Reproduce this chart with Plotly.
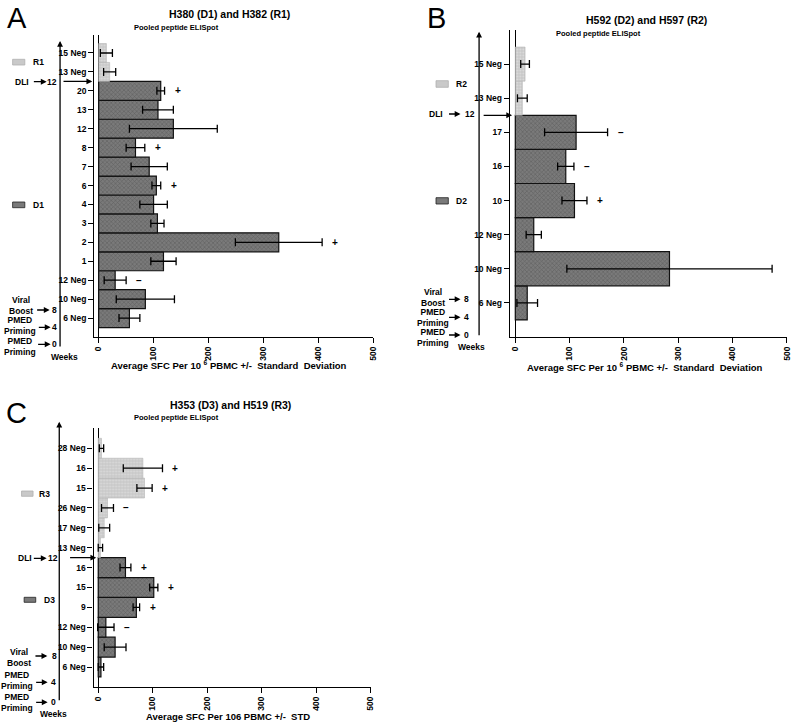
import plotly.graph_objects as go

W, H = 800, 725
FONT = "Liberation Sans, Arial, sans-serif"

def px(x):
    return x / W

def py(y):
    return 1 - y / H

# ---------------- Data ----------------
# Panel A: H380 (D1) and H382 (R1)  (bottom -> top)
a_d_labels = ["6 Neg", "10 Neg", "12 Neg", "1", "2", "3", "4", "6", "7", "8", "12", "13", "20"]
a_d_mean = [56, 85, 30, 118, 328, 107, 100, 105, 92, 67, 136, 108, 113]
a_d_sd = [19, 53, 20, 23, 79, 12, 25, 8, 33, 17, 80, 28, 7]
a_d_sig = ["", "", "–", "", "+", "", "", "+", "", "+", "", "", "+"]
a_r_labels = ["13 Neg", "15 Neg"]
a_r_mean = [20, 14]
a_r_sd = [11, 11]
a_r_sig = ["", ""]

# Panel B: H592 (D2) and H597 (R2)
b_d_labels = ["6 Neg", "10 Neg", "12 Neg", "10", "16", "17"]
b_d_mean = [22, 284, 34, 109, 93, 112]
b_d_sd = [19, 189, 14, 23, 15, 58]
b_d_sig = ["", "", "", "+", "–", "–"]
b_r_labels = ["13 Neg", "15 Neg"]
b_r_mean = [13, 18]
b_r_sd = [9, 8]
b_r_sig = ["", ""]

# Panel C: H353 (D3) and H519 (R3)
c_d_labels = ["6 Neg", "10 Neg", "12 Neg", "9", "15", "16"]
c_d_mean = [5, 31, 14, 70, 102, 50]
c_d_sd = [5, 20, 15, 6, 7.5, 10]
c_d_sig = ["", "", "–", "+", "+", "+"]
c_r_labels = ["13 Neg", "17 Neg", "26 Neg", "15", "16", "28 Neg"]
c_r_mean = [4, 11, 17, 85, 82, 6]
c_r_sd = [4, 10, 11, 14, 36, 4]
c_r_sig = ["", "", "–", "+", "+", ""]

x_ticks = [0, 100, 200, 300, 400, 500]

# ---------------- Styles ----------------
D_MARKER = dict(color="#7a7a7a",
                pattern=dict(shape="x", size=3, solidity=0.35, fgcolor="#454545"),
                line=dict(color="#111111", width=1.2))
R_MARKER = dict(color="#c9c9c9",
                pattern=dict(shape=".", size=3, solidity=0.3, fgcolor="#ededed"),
                line=dict(color="#b5b5b5", width=0.6))
ERR = dict(type="data", visible=True, color="black", thickness=1.3, width=4)

panels = [
    dict(xa="x", ya="y", xdom=(94, 375), ydom=(35, 337), xr=[-8, 500], yr=[-1, 14.95],
         d=(a_d_labels, a_d_mean, a_d_sd, a_d_sig), r=(a_r_labels, a_r_mean, a_r_sd, a_r_sig)),
    dict(xa="x2", ya="y2", xdom=(512.7, 791.7), ydom=(30, 337), xr=[-10, 500], yr=[-1, 8.0],
         d=(b_d_labels, b_d_mean, b_d_sd, b_d_sig), r=(b_r_labels, b_r_mean, b_r_sd, b_r_sig)),
    dict(xa="x3", ya="y3", xdom=(93.3, 372.3), ydom=(428, 686.9), xr=[-8.5, 500], yr=[-1, 12.02],
         d=(c_d_labels, c_d_mean, c_d_sd, c_d_sig), r=(c_r_labels, c_r_mean, c_r_sd, c_r_sig)),
]

fig = go.Figure()
annotations = []
shapes = []

for i, p in enumerate(panels):
    dl, dm, ds, dsig = p["d"]
    rl, rm, rs, rsig = p["r"]
    nd = len(dl)
    d_pos = list(range(nd))
    r_pos = list(range(nd, nd + len(rl)))
    fig.add_trace(go.Bar(x=dm, y=d_pos, orientation="h", width=1, marker=D_MARKER,
                         error_x=dict(array=ds, **ERR), xaxis=p["xa"], yaxis=p["ya"],
                         showlegend=False, hoverinfo="x"))
    fig.add_trace(go.Bar(x=rm, y=r_pos, orientation="h", width=1, marker=R_MARKER,
                         error_x=dict(array=rs, **ERR), xaxis=p["xa"], yaxis=p["ya"],
                         showlegend=False, hoverinfo="x"))
    for pos, m, s, sg in list(zip(d_pos, dm, ds, dsig)) + list(zip(r_pos, rm, rs, rsig)):
        if sg:
            annotations.append(dict(x=m + s, y=pos, xref=p["xa"], yref=p["ya"], text=sg,
                                    showarrow=False, xshift=13, xanchor="center",
                                    font=dict(family=FONT, size=10, color="black", weight="bold")))
    suffix = "" if i == 0 else str(i + 1)
    axis_common = dict(showline=True, linecolor="black", linewidth=1.3, ticks="outside",
                       ticklen=5, tickwidth=1.2, tickcolor="black", showgrid=False,
                       tickfont=dict(family=FONT, size=8.5, color="black", weight="bold"))
    fig.layout["xaxis" + suffix] = dict(
        domain=[px(p["xdom"][0]), px(p["xdom"][1])], range=p["xr"], anchor=p["ya"],
        tickvals=x_ticks, ticktext=[str(v) for v in x_ticks], tickangle=-90,
        zeroline=True, zerolinecolor="black", zerolinewidth=1.2, **axis_common)
    fig.layout["yaxis" + suffix] = dict(
        domain=[py(p["ydom"][1]), py(p["ydom"][0])], range=p["yr"], anchor=p["xa"],
        tickvals=d_pos + r_pos, ticktext=dl + rl, zeroline=False, **axis_common)


def text(x, y, s, size=8.5, bold=True, xanchor="center"):
    annotations.append(dict(x=px(x), y=py(y), xref="paper", yref="paper", text=s,
                            showarrow=False, xanchor=xanchor, yanchor="middle", align="center",
                            font=dict(family=FONT, size=size, color="black",
                                      weight="bold" if bold else "normal")))


def arrow(x0, y0, x1, y1, width=1.3, size=0.9):
    # from (x0,y0) to head at (x1,y1) in pixel coordinates
    annotations.append(dict(x=px(x1), y=py(y1), xref="paper", yref="paper", text="",
                            showarrow=True, ax=x0 - x1, ay=y0 - y1, axref="pixel", ayref="pixel",
                            arrowhead=2, arrowsize=size, arrowwidth=width, arrowcolor="black",
                            standoff=0, startstandoff=0))


def arrow_to_axis(x0, x1, ypos, yref):
    annotations.append(dict(x=px(x1), y=ypos, xref="paper", yref=yref, text="",
                            showarrow=True, ax=x0 - x1, ay=0, axref="pixel", ayref="pixel",
                            arrowhead=2, arrowsize=0.9, arrowwidth=1.3, arrowcolor="black",
                            standoff=0))


def swatch(x0, y0, x1, y1, kind):
    if kind == "D":
        fill, line = "#7a7a7a", "#222222"
    else:
        fill, line = "#c9c9c9", "#b0b0b0"
    shapes.append(dict(type="rect", xref="paper", yref="paper", x0=px(x0), x1=px(x1),
                       y0=py(y1), y1=py(y0), fillcolor=fill, line=dict(color=line, width=0.8)))


# ---------------- Panel A decorations ----------------
text(16, 18.5, "A", size=29, bold=False)
text(230.5, 14, "H380 (D1) and H382 (R1)", size=10.5)
text(177, 28, "Pooled peptide ELISpot", size=7.5)
text(230, 365, "Average SFC Per 10 <sup>6</sup> PBMC +/-  Standard  Deviation", size=9.5)
swatch(11.7, 59.3, 24, 65, "R")
text(30, 62.2, "R1", xanchor="left")
swatch(11.7, 202, 24, 207.7, "D")
text(30, 205, "D1", xanchor="left")
arrow(59.5, 348, 59.5, 41)
text(20.7, 81.7, "DLI")
arrow(31.7, 81.7, 46, 81.7)
text(51.5, 81.7, "12")
arrow_to_axis(61.7, 92, 12.5, "y")
text(20.3, 305.8, "Viral<br>Boost")
arrow(35, 310, 49, 310)
text(54.3, 310, "8")
text(19.2, 325.8, "PMED<br>Priming")
arrow(36.7, 327.3, 50, 327.3)
text(53.5, 327.3, "4")
text(19.2, 346, "PMED<br>Priming")
arrow(36, 344.3, 50, 344.3)
text(53.5, 344.3, "0")
text(64.3, 357.3, "Weeks")

# ---------------- Panel B decorations ----------------
text(438.7, 17.5, "B", size=29, bold=False)
text(650.5, 19.5, "H592 (D2) and H597 (R2)", size=10.5)
text(602, 33.7, "Pooled peptide ELISpot", size=7.5)
text(648.8, 367.3, "Average SFC Per 10 <sup>6</sup> PBMC +/-  Standard  Deviation", size=9.5)
swatch(438.3, 80.7, 450.7, 87.3, "R")
text(456.7, 84, "R2", xanchor="left")
swatch(438.3, 197.7, 450.7, 204, "D")
text(456.7, 201, "D2", xanchor="left")
arrow(481.7, 336.7, 481.7, 31.7)
text(438.3, 114, "DLI")
arrow(450, 114, 463, 114)
text(472.5, 114, "12")
arrow_to_axis(485, 515, 5.5, "y2")
text(435, 297.5, "Viral<br>Boost")
arrow(450, 299.3, 463, 299.3)
text(469.3, 299.3, "8")
text(435.5, 317.2, "PMED<br>Priming")
arrow(450, 317.3, 463, 317.3)
text(469.3, 317.3, "4")
text(435.5, 337.3, "PMED<br>Priming")
arrow(450, 335, 463, 335)
text(469.3, 335, "0")
text(474, 346.7, "Weeks")

# ---------------- Panel C decorations ----------------
text(16, 413, "C", size=29, bold=False)
text(231, 405, "H353 (D3) and H519 (R3)", size=10.5)
text(177, 417.5, "Pooled peptide ELISpot", size=7.5)
text(228.8, 716, "Average SFC Per 106 PBMC +/-  STD", size=9.5)
swatch(20.7, 491, 32.3, 496.3, "R")
text(36.7, 493.7, "R3", xanchor="left")
swatch(23.3, 597.3, 35, 602.3, "D")
text(41.7, 600, "D3", xanchor="left")
arrow(58.7, 701.7, 58.7, 421.7)
text(24, 558.3, "DLI")
arrow(31.7, 558.3, 46, 558.3)
text(52, 558.3, "12")
arrow_to_axis(68.3, 96, 5.5, "y3")
text(18.3, 657.5, "Viral<br>Boost")
arrow(33.3, 656, 46.7, 656)
text(54, 656, "8")
text(16, 680.2, "PMED<br>Priming")
arrow(34, 682.3, 47, 682.3)
text(53.3, 682.3, "4")
text(16, 702.2, "PMED<br>Priming")
arrow(34, 702.3, 47, 702.3)
text(53.3, 702.3, "0")
text(53.3, 714, "Weeks")

fig.update_layout(
    width=W, height=H, margin=dict(l=0, r=0, t=0, b=0),
    paper_bgcolor="white", plot_bgcolor="white",
    barmode="overlay", showlegend=False,
    font=dict(family=FONT, color="black"),
    annotations=annotations, shapes=shapes,
)

fig.write_html("out.html", config={"displayModeBar": False},
               post_script="document.body.style.margin='0';document.body.style.padding='0';"
                           "document.body.style.overflow='hidden';")
